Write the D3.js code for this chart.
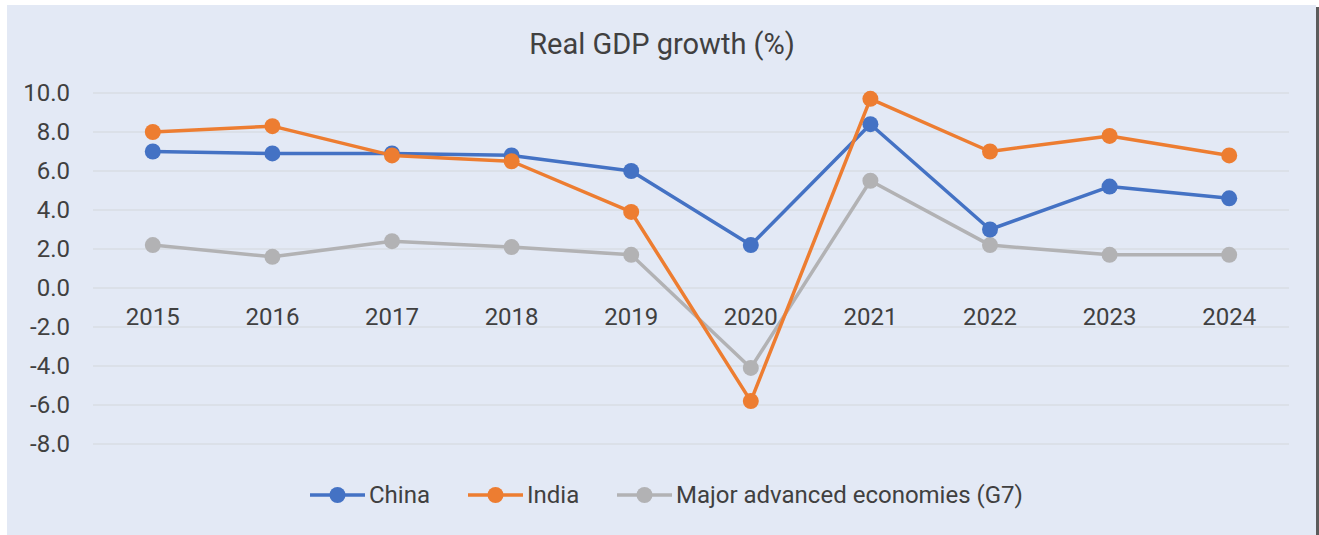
<!DOCTYPE html>
<html>
<head>
<meta charset="utf-8">
<script src="https://cdn.jsdelivr.net/npm/d3@7"></script>
<style>
  body { margin: 0; background: #fff; }
  text { font-family: Roboto, "Noto Sans", sans-serif; fill: #404040; }
</style>
</head>
<body>
<div id="chart"></div>
<script>
// Data
let years = ["2015", "2016", "2017", "2018", "2019", "2020", "2021", "2022", "2023", "2024"];
let china = [7.0, 6.9, 6.9, 6.8, 6.0, 2.2, 8.4, 3.0, 5.2, 4.6];
let india = [8.0, 8.3, 6.8, 6.5, 3.9, -5.8, 9.7, 7.0, 7.8, 6.8];
let g7 = [2.2, 1.6, 2.4, 2.1, 1.7, -4.1, 5.5, 2.2, 1.7, 1.7];
let yTicks = [10, 8, 6, 4, 2, 0, -2, -4, -6, -8];
let seriesNames = ["China", "India", "Major advanced economies (G7)"];

let svgWidth = 1319;
let svgHeight = 535;

let chartMargin = { top: 93, right: 30, bottom: 91, left: 93 };
let chartWidth = svgWidth - chartMargin.left - chartMargin.right;
let chartHeight = svgHeight - chartMargin.top - chartMargin.bottom;

let svg = d3.select("#chart")
    .append("svg")
    .attr("width", svgWidth)
    .attr("height", svgHeight);

// panel background + right edge shadow
svg.append("rect")
    .attr("x", 7).attr("y", 5)
    .attr("width", 1309).attr("height", 530)
    .attr("fill", "#E3E9F5");
svg.append("rect")
    .attr("x", 1316).attr("y", 7)
    .attr("width", 3).attr("height", 528)
    .attr("fill", "#5B5B5B");

let chartGroup = svg.append("g")
    .attr("transform", `translate(${chartMargin.left}, ${chartMargin.top})`);

let xScale = d3.scaleBand()
    .domain(years)
    .range([0, chartWidth]);

let yScale = d3.scaleLinear()
    .domain([-8, 10])
    .range([chartHeight, 0]);

// gridlines
chartGroup.append("g")
    .selectAll("line")
    .data(yTicks)
    .enter()
    .append("line")
    .attr("x1", 0)
    .attr("x2", chartWidth)
    .attr("y1", d => yScale(d))
    .attr("y2", d => yScale(d))
    .attr("stroke", "#D8DCE3")
    .attr("stroke-width", 1.5);

// y axis labels (plain hyphen minus like the original)
let yAxis = d3.axisLeft(yScale)
    .tickValues(yTicks)
    .tickFormat(d => d.toFixed(1))
    .tickSize(0)
    .tickPadding(23);

let yAxisG = chartGroup.append("g").call(yAxis);
yAxisG.select(".domain").remove();
yAxisG.selectAll("text")
    .attr("font-size", "24px")
    .attr("font-family", "Roboto, sans-serif")
    .attr("fill", "#404040");

// x axis labels sit on the zero line
let xAxis = d3.axisBottom(xScale)
    .tickSize(0)
    .tickPadding(20);

let xAxisG = chartGroup.append("g")
    .attr("transform", `translate(0, ${yScale(0)})`)
    .call(xAxis);
xAxisG.select(".domain").remove();
xAxisG.selectAll("text")
    .attr("font-size", "24px")
    .attr("font-family", "Roboto, sans-serif")
    .attr("fill", "#404040");

// series
let series = [
    { name: seriesNames[0], values: china, color: "#4472C4" },
    { name: seriesNames[1], values: india, color: "#ED7D31" },
    { name: seriesNames[2], values: g7, color: "#B2B2B4" }
];

let line = d3.line()
    .x((d, i) => xScale(years[i]) + xScale.bandwidth() / 2)
    .y(d => yScale(d));

// draw G7 first, then China, India on top
[2, 0, 1].forEach(function(k) {
    let s = series[k];
    chartGroup.append("path")
        .datum(s.values)
        .attr("d", line)
        .attr("fill", "none")
        .attr("stroke", s.color)
        .attr("stroke-width", 3.5)
        .attr("stroke-linejoin", "round");
    chartGroup.append("g")
        .selectAll("circle")
        .data(s.values)
        .enter()
        .append("circle")
        .attr("cx", (d, i) => xScale(years[i]) + xScale.bandwidth() / 2)
        .attr("cy", d => yScale(d))
        .attr("r", 8)
        .attr("fill", s.color);
});

// title
svg.append("text")
    .attr("x", 662)
    .attr("y", 54)
    .attr("text-anchor", "middle")
    .attr("font-size", "29px")
    .text("Real GDP growth (%)");

// legend
let legendX = [310, 468, 617];
let legendY = 495;
series.forEach(function(s, i) {
    let g = svg.append("g").attr("transform", `translate(${legendX[i]}, ${legendY})`);
    g.append("line")
        .attr("x1", 0).attr("x2", 55)
        .attr("y1", 0).attr("y2", 0)
        .attr("stroke", s.color)
        .attr("stroke-width", 3.5);
    g.append("circle")
        .attr("cx", 27.5).attr("cy", 0)
        .attr("r", 8)
        .attr("fill", s.color);
    g.append("text")
        .attr("x", 59)
        .attr("y", 0)
        .attr("dy", "0.35em")
        .attr("font-size", "24px")
        .text(s.name);
});
</script>
</body>
</html>
